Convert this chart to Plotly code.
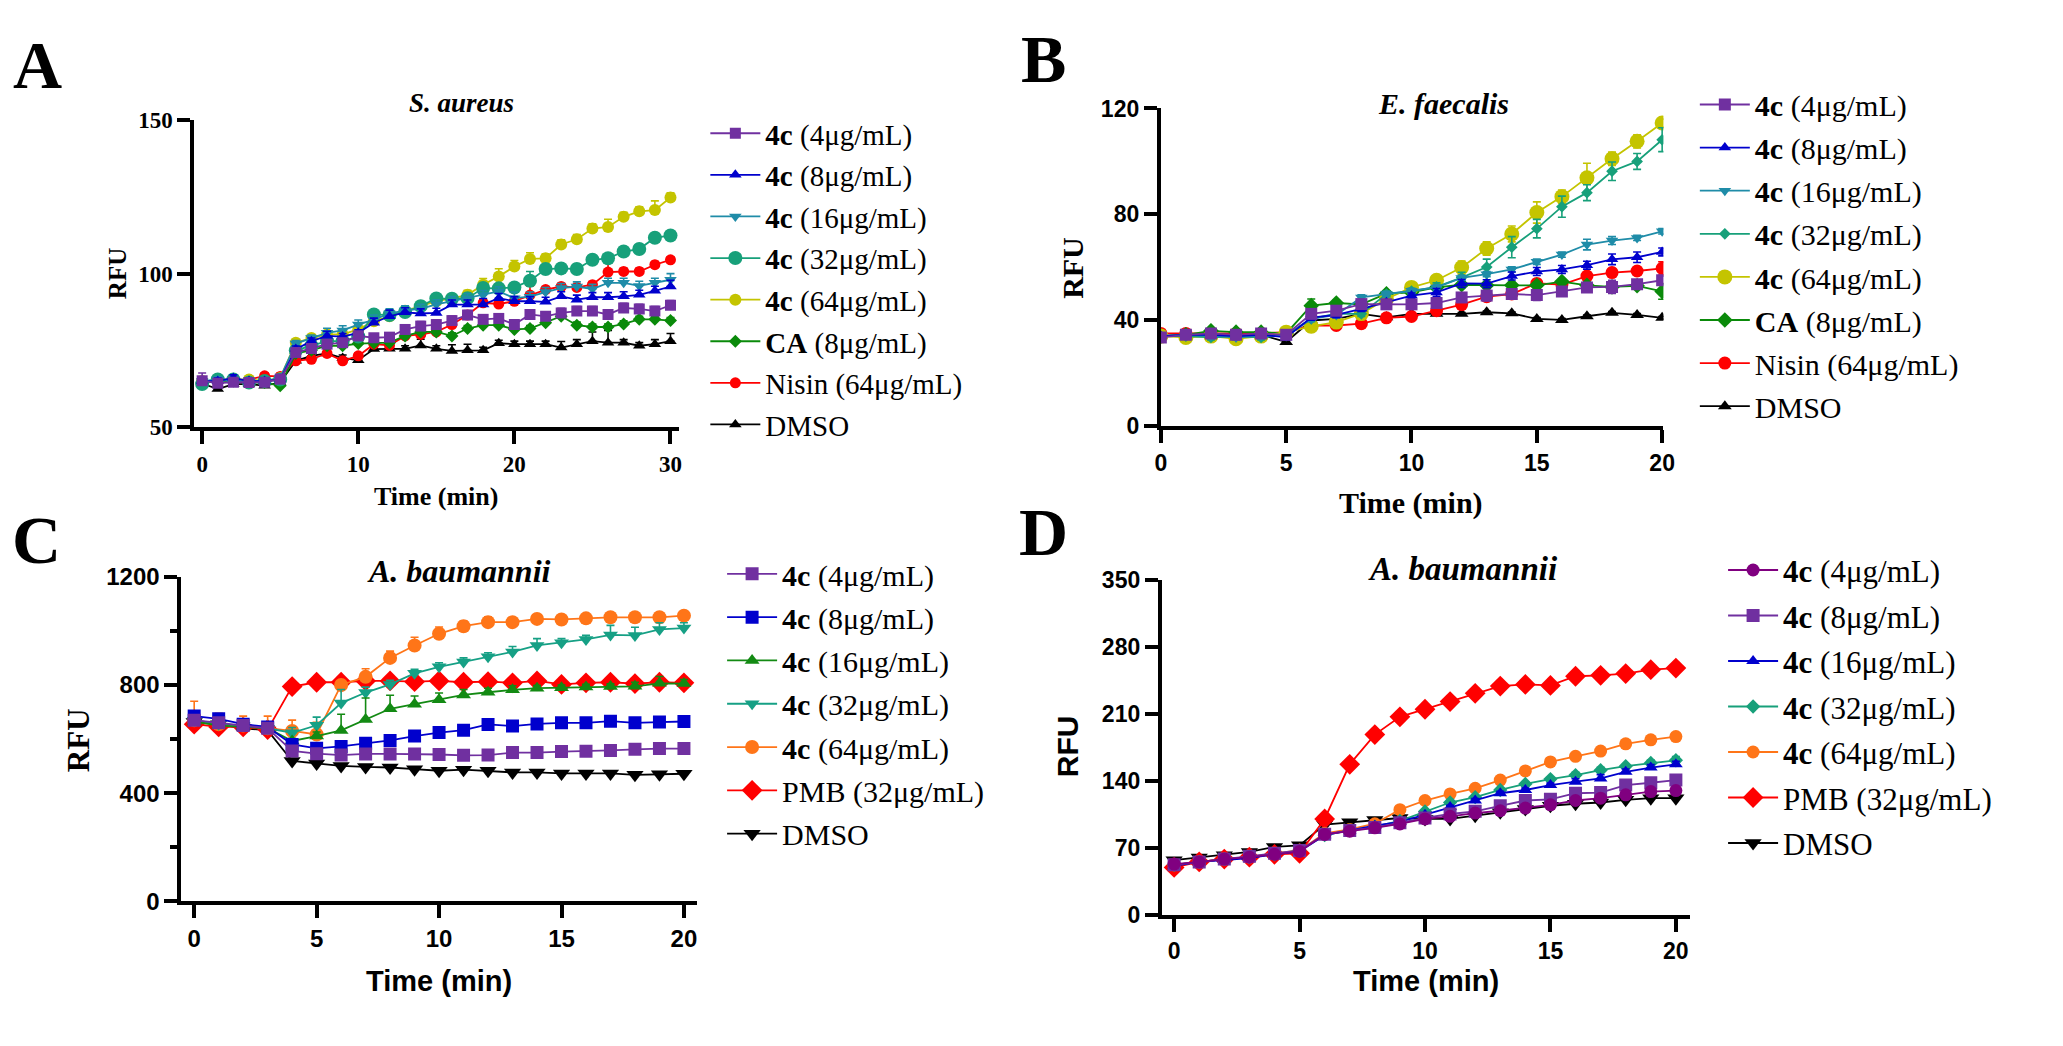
import plotly.graph_objects as go

W, H = 2063, 1046

def px(x):
    return x / W

def py(y):
    return 1 - y / H

# ---------------- data ----------------
tA = list(range(31))
tB = list(range(21))

a_4c4 = [65.1,64.3,64.6,64.5,64.6,65.6,74.3,75.6,77.0,77.5,79.7,79.1,79.3,81.8,82.9,83.4,84.7,86.5,85.1,85.4,83.4,86.7,86.1,87.2,87.8,87.8,86.7,88.8,88.5,87.8,89.7]
a_4c8 = [65.0,65.0,66.0,65.0,65.0,65.5,75.4,78.0,79.7,79.5,80.7,84.0,86.1,87.4,87.0,87.2,89.9,89.9,89.9,92.0,91.0,91.0,90.8,92.6,91.5,92.3,92.3,92.6,93.1,94.4,95.8]
a_4c16 = [65.0,65.5,65.0,65.0,65.0,66.0,77.2,79.0,80.7,81.5,83.4,85.0,87.0,88.0,88.5,90.0,91.0,92.0,93.0,94.2,92.0,92.5,94.0,95.3,95.8,95.0,97.0,97.0,96.0,97.0,98.0]
a_4c32 = [64.0,65.5,65.5,64.5,65.0,65.5,75.0,76.5,78.0,78.0,79.5,86.7,86.5,87.5,89.4,91.9,91.8,92.0,95.3,95.2,95.5,97.7,101.5,101.7,101.5,104.5,105.0,107.2,108.0,111.7,112.4]
a_4c64 = [65.0,65.0,65.5,65.5,65.0,66.0,77.5,79.0,80.2,80.2,81.8,84.5,86.1,87.9,89.4,91.0,91.9,93.1,96.4,99.1,102.3,104.8,105.0,109.5,111.2,114.7,115.2,118.5,120.3,120.7,124.8]
a_ca = [64.5,65.0,65.0,64.5,64.5,63.5,74.0,75.0,76.5,76.5,77.2,77.4,77.5,79.7,81.0,81.0,79.7,82.1,83.2,83.2,81.8,82.1,84.0,86.1,83.2,82.6,82.6,83.6,85.1,85.1,84.7]
a_nisin = [65.0,64.5,65.0,65.5,66.7,66.5,71.6,72.1,74.0,71.6,73.2,77.0,76.6,79.7,80.2,81.0,83.4,86.5,90.5,90.1,91.0,93.0,94.8,95.8,95.5,96.4,100.5,100.7,100.7,102.9,104.5]
a_dmso = [64.2,62.4,64.0,64.0,63.5,64.5,71.6,73.2,74.0,72.5,71.8,75.4,75.5,75.5,76.6,75.5,74.8,75.0,75.0,77.3,77.0,77.0,77.0,75.9,77.0,78.0,77.5,77.5,76.5,77.0,78.0]

a_4c4_err = [2.5,1,1,1,1,1.5,1,1.5,1,1,1.5,1,1,1.5,1.5,1.5,1.5,1.5,1.5,1.5,1.5,1.5,1.5,1.5,1.5,1.5,1.5,1.5,1.5,1.5,1.5]
a_4c8_err = [1,1,1,1,1,1,1,1,1.5,1,1,1.5,2,1.5,1.5,1.5,1.5,1.5,2,1.5,1.5,1.5,1.5,1.5,1.5,1.5,1.5,1.5,1.5,1.5,2]
a_4c16_err = [1,1,1,1,1,1,1,1,1.5,1.5,1.5,1.5,1.5,1.5,1.5,1.5,1.5,1.5,1.5,1.5,2,1.5,1.5,1.5,1.5,1.5,1.5,1.5,1.5,1.5,2]
a_4c32_err = [1,1,1,1,1,1,1,1,1,1,1,1,1,1,1.5,1.5,1.5,1.5,1.5,1.5,1.5,3,1.5,1.5,1.5,1.5,1.5,1.5,1.5,1.5,1.5]
a_4c64_err = [1,1,1,1,1,1,1,1,1,1,1,1,1,1,1.5,1.5,1.5,1.5,2,2.5,2,2,1.5,1.5,1.5,1.5,2.5,1.5,1.5,3,1.5]
a_ca_err = [1,1,1,1,1,1,1,1,1,1,1,1,1,1,1,1,1,1,1,1,1,1,1,1,1,1,1,1,1,1,1]
a_nisin_err = [1,1,1,1,1,1,1,1,1,1,1,1,1,1,1,1,1,1,1,1,1,3,1,1,1,1,3,1,1,1,1]
a_dmso_err = [1,1,1,1,1,1,1,1,1,1,1,1,1,1,2,1,2,2,1,1,1,1,1,2,1.5,3,4,1,1,1.5,2.5]

b_4c4 = [33.5,34.5,35.0,34.5,35.0,34.5,42.4,43.6,46.1,46.0,46.0,46.5,48.6,49.3,49.9,49.5,50.9,52.4,52.6,53.6,55.1]
b_4c8 = [34.0,34.5,34.5,34.0,34.5,33.5,41.0,42.0,44.3,46.8,49.3,50.5,53.9,53.8,56.7,58.4,59.2,60.8,63.0,63.8,65.8]
b_4c16 = [34.0,34.5,34.0,33.5,34.0,34.0,40.5,42.0,48.6,49.9,51.1,52.4,56.0,57.4,59.2,62.1,64.8,68.6,70.1,71.1,73.6]
b_4c32 = [34.0,34.0,33.5,34.0,33.5,34.5,40.5,42.5,42.4,49.9,51.0,52.6,56.1,60.1,67.6,74.6,82.9,88.2,96.3,100.0,108.2]
b_4c64 = [34.0,33.5,34.0,33.0,34.0,35.5,37.7,39.3,42.5,48.0,52.4,55.1,59.9,67.1,72.6,80.7,86.7,93.8,101.0,107.6,114.5]
b_ca = [34.0,34.5,36.0,35.5,35.5,35.0,45.5,46.5,46.0,50.0,50.5,52.4,53.4,53.2,53.2,53.2,54.6,53.2,52.6,53.0,50.9]
b_nisin = [35.0,35.0,35.0,35.0,35.0,35.5,38.0,38.0,38.7,40.9,41.4,43.6,45.9,48.9,49.9,53.9,53.5,56.7,58.0,58.6,59.6]
b_dmso = [34.0,34.5,35.0,34.5,34.5,31.8,39.9,40.5,42.4,41.1,42.4,42.4,42.4,43.0,42.6,40.5,40.1,41.5,42.8,42.0,40.9]

b_4c4_err = [1,1,1,1,1,1,1,1,1,1,1,1,1.5,2,1.5,2,1.5,1.5,2.5,1.5,1.5]
b_4c8_err = [1,1,1,1,1,1,1,1,1,1,1,1.5,1.5,1.5,1.5,1.5,1.5,1.5,2,2,1.5]
b_4c16_err = [1,1,1,1,1,1,1,1,1,1,1,1,1,1,1,1,1,2,1.5,1,1]
b_4c32_err = [1,1,1,1,1,1,1,1,1,1,1,1.5,2,3,4,3.5,4,3,3.5,3,4.5]
b_4c64_err = [1,1,1,1,1,1,2,1,1,1,1.5,1.5,2.5,2.5,3,4,2.5,5.5,2.5,2.5,1.5]
b_ca_err = [1,1,1,1,1,1,2.5,1,1,1,1,1,1,1,1,1,1,1,1,1,3]
b_nisin_err = [1,1,1,1,1,1,1.5,1,1,1.5,1,1,1,1,1.5,1.5,1,1.5,1.5,1.5,2.5]
b_dmso_err = [0.5,0.5,0.5,0.5,0.5,0.5,0.5,0.5,0.5,0.5,0.5,0.5,0.5,0.5,0.5,0.5,0.5,0.5,0.5,0.5,0.5]

c_4c4 = [670,660,650,640,556,546,541,545,545,545,543,540,541,550,550,554,555,558,562,565,565]
c_4c8 = [685,675,655,645,580,566,573,585,595,611,624,633,654,648,656,660,660,666,660,663,665]
c_4c16 = [665,650,645,640,593,611,632,672,712,729,745,763,773,782,788,790,792,794,795,806,805]
c_4c32 = [670,655,650,640,623,651,733,772,802,843,867,885,904,922,946,956,968,985,983,1005,1010]
c_4c64 = [670,655,650,640,630,617,800,830,900,946,989,1017,1032,1032,1044,1042,1046,1050,1050,1050,1056]
c_pmb = [655,645,645,635,794,810,810,815,815,812,815,810,812,808,815,802,808,810,805,810,808]
c_dmso = [663,655,640,632,519,510,501,497,495,489,483,487,483,477,477,473,473,473,468,470,472]

c_4c4_err = [10,10,10,10,10,10,10,10,10,10,10,10,10,10,10,10,10,10,10,10,10]
c_4c8_err = [15,10,10,10,10,10,10,10,10,10,10,10,10,10,10,10,10,10,10,10,10]
c_4c16_err = [10,10,10,10,10,15,60,80,50,30,25,20,15,15,10,10,10,10,15,25,15]
c_4c32_err = [10,10,10,10,20,30,50,20,15,15,15,15,15,20,25,15,15,35,30,25,20]
c_4c64_err = [70,40,35,45,40,45,15,30,25,30,25,20,20,10,15,10,10,10,10,10,10]
c_pmb_err = [10,10,10,10,10,10,10,10,10,10,10,10,10,15,10,10,10,10,10,10,10]
c_dmso_err = [5,5,5,5,5,5,5,5,5,5,5,5,5,5,5,5,5,5,5,5,5]

d_4c4 = [52.8,55,58,60,63,66,83.8,87.2,90.7,94.8,100,102.8,106.2,108.6,111.4,114.8,119.3,121.7,125.2,128.6,129.7]
d_4c8 = [52,55,58,61,64,67,84,88,91,96,101,105.2,108,113.8,119.3,120.5,126.9,127.6,135.5,137.9,140.7]
d_4c16 = [51,55,57,59,63,66,83,88,93,97,104.5,112.4,119.3,126.9,130.3,135.5,139,142.4,149.3,153.8,157.2]
d_4c32 = [52,55,58,60,63,67,83,88,92,98,107.9,117.2,122.8,130.3,136.6,141.7,145.9,151,155.2,158.6,161.4]
d_4c64 = [52,55,58,60,64,67,85,89,95,109.7,119.3,126.2,132.1,140.7,150.3,159.7,165.5,171,178.6,182.8,186.2]
d_pmb = [49.3,55,58,60,63,64.1,100,157.2,188.3,206.9,214.8,222.8,231.4,239,240.7,239.7,249.3,250.3,252.1,256.2,257.9]
d_dmso = [56.9,59.7,62,65.5,70.7,72.4,94.1,96.6,99,101,100,100,103.4,106.9,110.3,113.8,115.9,117.2,120,121.7,121.7]

d_4c4_err = [2,2,2,2,2,2,2,2,2,2,2,2,2,2,2,2,3,2,3,3,3]
d_4c8_err = [2,2,2,2,2,2,2,2,2,2,2,2,2,3,3,3,4,3,5,4,4]
d_4c16_err = [2,2,2,2,2,2,2,2,2,2,2,2,2,2,2,2,3,4,3,3,3]
d_4c32_err = [2,2,2,2,2,2,2,2,2,2,2,3,2,2,2,2,3,3,2,3,4]
d_4c64_err = [2,2,2,2,2,2,2,2,2,2,2,2,2,2,2,2,2,2,2,2,2]
d_pmb_err = [2,2,2,2,2,2,2,2,2,2,2,2,5,2,2,2,2,2,2,4,2]
d_dmso_err = [2,2,2,2,2,2,2,2,2,2,2,2,2,2,2,2,2,2,2,2,2]

# ---------------- styles ----------------
SERIF = "Liberation Serif"
SANS = "Liberation Sans"
PURPLE = "#7030A0"
BLUE = "#0000CD"
TEAL = "#1F8CA8"
TGREEN = "#17A07A"
OLIVE = "#C4C400"
GREEN = "#0A8A0A"
RED = "#FF0000"
ORANGE = "#FF7518"
BLACK = "#000000"

fig = go.Figure()

def add(t, y, err, name, color, symbol, size, ax, leg, rank, sym=False, lw=1.8):
    n = len(t)
    ed = dict(type="data", array=err, color=color, thickness=1.6, width=4, visible=True)
    if not sym:
        ed.update(symmetric=False, arrayminus=[0] * n)
    fig.add_trace(go.Scatter(
        x=t, y=y, name=name, mode="lines+markers",
        line=dict(color=color, width=lw),
        marker=dict(symbol=symbol, size=size, color=color, line=dict(width=0)),
        error_y=ed, xaxis="x" + ax, yaxis="y" + ax,
        legend=leg, legendgroup=leg + name, legendrank=rank, showlegend=True,
    ))

B4 = "<b>4c</b>"
# listed bottom-up so the first legend series is drawn on top
A = [
    (a_dmso, a_dmso_err, "DMSO", BLACK, "triangle-up", 11),
    (a_nisin, a_nisin_err, "Nisin (64μg/mL)", RED, "circle", 11),
    (a_ca, a_ca_err, "<b>CA</b> (8μg/mL)", GREEN, "diamond", 10),
    (a_4c64, a_4c64_err, B4 + " (64μg/mL)", OLIVE, "circle", 12),
    (a_4c32, a_4c32_err, B4 + " (32μg/mL)", TGREEN, "circle", 14),
    (a_4c16, a_4c16_err, B4 + " (16μg/mL)", TEAL, "triangle-down", 11),
    (a_4c8, a_4c8_err, B4 + " (8μg/mL)", BLUE, "triangle-up", 11),
    (a_4c4, a_4c4_err, B4 + " (4μg/mL)", PURPLE, "square", 11),
]
for i, (y, e, nm, c, s, sz) in enumerate(A):
    add(tA, y, e, nm, c, s, sz, "", "legend", 1000 - i)

Bs = [
    (b_dmso, b_dmso_err, "DMSO", BLACK, "triangle-up", 12),
    (b_nisin, b_nisin_err, "Nisin (64μg/mL)", RED, "circle", 13),
    (b_ca, b_ca_err, "<b>CA</b> (8μg/mL)", GREEN, "diamond", 12),
    (b_4c64, b_4c64_err, B4 + " (64μg/mL)", OLIVE, "circle", 15),
    (b_4c32, b_4c32_err, B4 + " (32μg/mL)", TGREEN, "diamond", 9),
    (b_4c16, b_4c16_err, B4 + " (16μg/mL)", TEAL, "triangle-down", 11),
    (b_4c8, b_4c8_err, B4 + " (8μg/mL)", BLUE, "triangle-up", 11),
    (b_4c4, b_4c4_err, B4 + " (4μg/mL)", PURPLE, "square", 12),
]
for i, (y, e, nm, c, s, sz) in enumerate(Bs):
    add(tB, y, e, nm, c, s, sz, "2", "legend2", 1000 - i, sym=True)

Cs = [
    (c_dmso, c_dmso_err, "DMSO", BLACK, "triangle-down", 15),
    (c_pmb, c_pmb_err, "PMB (32μg/mL)", RED, "diamond", 16),
    (c_4c64, c_4c64_err, B4 + " (64μg/mL)", ORANGE, "circle", 14),
    (c_4c32, c_4c32_err, B4 + " (32μg/mL)", "#16A085", "triangle-down", 13),
    (c_4c16, c_4c16_err, B4 + " (16μg/mL)", "#138A13", "triangle-up", 13),
    (c_4c8, c_4c8_err, B4 + " (8μg/mL)", BLUE, "square", 13),
    (c_4c4, c_4c4_err, B4 + " (4μg/mL)", PURPLE, "square", 13),
]
for i, (y, e, nm, c, s, sz) in enumerate(Cs):
    add(tB, y, e, nm, c, s, sz, "3", "legend3", 1000 - i)

Ds = [
    (d_dmso, d_dmso_err, "DMSO", BLACK, "triangle-down", 15),
    (d_pmb, d_pmb_err, "PMB (32μg/mL)", RED, "diamond", 16),
    (d_4c64, d_4c64_err, B4 + " (64μg/mL)", ORANGE, "circle", 13),
    (d_4c32, d_4c32_err, B4 + " (32μg/mL)", TGREEN, "diamond", 11),
    (d_4c16, d_4c16_err, B4 + " (16μg/mL)", BLUE, "triangle-up", 12),
    (d_4c8, d_4c8_err, B4 + " (8μg/mL)", PURPLE, "square", 13),
    (d_4c4, d_4c4_err, B4 + " (4μg/mL)", "#800080", "circle", 13),
]
for i, (y, e, nm, c, s, sz) in enumerate(Ds):
    add(tB, y, e, nm, c, s, sz, "4", "legend4", 1000 - i)

def axis(dom, rng, dtick, family, size, **kw):
    d = dict(domain=dom, range=rng, dtick=dtick, tick0=0, showline=True, linewidth=4,
             linecolor="black", ticks="outside", ticklen=13, tickwidth=4, tickcolor="black",
             showgrid=False, zeroline=False,
             tickfont=dict(family=family, size=size, color="black", weight="bold"))
    d.update(kw)
    return d

fig.update_layout(
    width=W, height=H, autosize=False, margin=dict(l=0, r=0, t=0, b=0),
    paper_bgcolor="white", plot_bgcolor="white",
    xaxis=axis([px(190), px(679)], [-0.5, 30.55], 10, SERIF, 23, anchor="y"),
    yaxis=axis([py(424), py(109)], [50, 150], 50, SERIF, 23, anchor="x"),
    xaxis2=axis([px(1165), px(1672)], [0, 20.05], 5, SANS, 23, anchor="y2"),
    yaxis2=axis([py(423), py(97)], [0, 120], 40, SANS, 23, anchor="x2"),
    xaxis3=axis([px(177), px(697)], [-0.52, 20.53], 5, SANS, 24, anchor="y3"),
    yaxis3=axis([py(911), py(577.6)], [0, 1200], 400, SANS, 24, anchor="x3",
                minor=dict(ticks="outside", ticklen=7, tickwidth=4, tickcolor="black",
                           dtick=200, tick0=0)),
    xaxis4=axis([px(1166), px(1699)], [-0.49, 20.57], 5, SANS, 23, anchor="y4"),
    yaxis4=axis([py(924.4), py(581)], [0, 350], 70, SANS, 23, anchor="x4"),
)

def legend(x, ytop, size, gap):
    return dict(x=px(x), y=py(ytop), xanchor="left", yanchor="top",
                font=dict(family=SERIF, size=size, color="black"),
                bgcolor="rgba(0,0,0,0)", traceorder="grouped",
                tracegroupgap=gap, itemwidth=50, borderwidth=0)

fig.update_layout(
    legend=legend(705.5, 96.4, 29, 0.9),
    legend2=legend(1703.7, 66.2, 30, 1.1),
    legend3=legend(722.4, 548, 30, 1.3),
    legend4=legend(1732.2, 543.4, 31, 2.2),
)

ann = []
def text(x, y, s, family, size, angle=0, bold=True):
    ann.append(dict(x=px(x), y=py(y), xref="paper", yref="paper", text=s, showarrow=False,
                    xanchor="center", yanchor="middle", textangle=angle,
                    font=dict(family=family, size=size, color="black",
                              weight="bold" if bold else "normal")))

# panel letters
text(31.5, 52, "A", SERIF, 68)
text(1047, 46, "B", SERIF, 68)
text(31, 540, "C", SERIF, 68)
text(1047, 532, "D", SERIF, 68)
# titles
text(460, 91, "<i>S. aureus</i>", SERIF, 27)
text(1450, 92, "<i>E. faecalis</i>", SERIF, 30)
text(457, 572, "<i>A. baumannii</i>", SERIF, 32)
text(1470, 570, "<i>A. baumannii</i>", SERIF, 33)
# axis titles
text(112, 267, "RFU", SERIF, 25, -90)
text(434, 495, "Time (min)", SERIF, 26)
text(1076, 261, "RFU", SERIF, 30, -90)
text(1417, 502, "Time (min)", SERIF, 30)
text(73, 745, "RFU", SERIF, 31, -90)
text(437, 993, "Time (min)", SANS, 29)
text(1071, 752, "RFU", SANS, 30, -90)
text(1432, 993, "Time (min)", SANS, 29)
fig.update_layout(annotations=ann)

fig.write_html("out.html", config={"displayModeBar": False},
               post_script="document.body.style.margin='0px';document.body.style.overflow='hidden';")
